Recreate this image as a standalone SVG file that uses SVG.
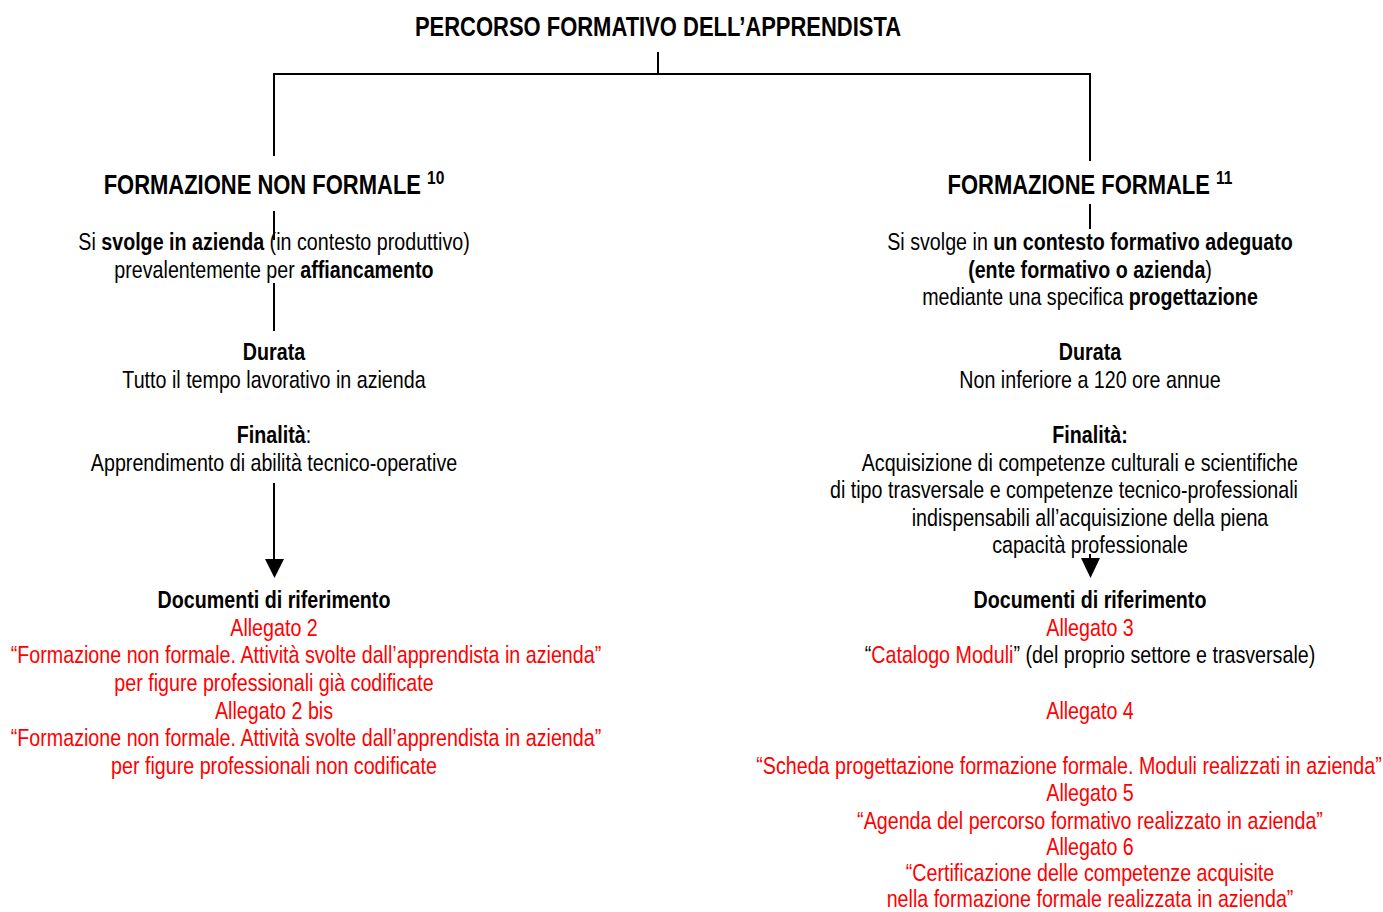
<svg xmlns="http://www.w3.org/2000/svg" width="1383" height="912" viewBox="0 0 1383 912">
<style>
text{font-family:"Liberation Sans",Arial,sans-serif;font-size:24px;fill:#000;text-anchor:middle}
.s{text-anchor:start}
.e{text-anchor:end}
.h{font-size:26.8px;font-weight:bold}
.b{font-weight:bold}
.r{fill:#ff0000}
.sup{font-size:19px;font-weight:bold}
.ln{stroke:#000;stroke-width:2;fill:none}
</style>
<rect width="1383" height="912" fill="#fff"/>
<g id="connectors">
<path class="ln" d="M658 52V74M273 74H1091M274 74V156M1090 74V161"/>
<path class="ln" d="M274 211V240M274 283V331M1090 204V229"/>
<path class="ln" d="M274 483V562"/>
<polygon points="265,559 284,559 274.5,578" fill="#000"/>
<path class="ln" d="M1090 554V562"/>
<polygon points="1081,558 1100,558 1090.5,578" fill="#000"/>
</g>
<g id="title">
<text class="h" transform="translate(658,36) scale(0.82,1)">PERCORSO FORMATIVO DELL’APPRENDISTA</text>
</g>
<g id="nonformale">
<text class="h" transform="translate(274,194) scale(0.82,1)">FORMAZIONE NON FORMALE <tspan class="sup" dy="-10">10</tspan></text>
<text transform="translate(274,250) scale(0.82,1)">Si <tspan class="b">svolge in azienda</tspan> (in contesto produttivo)</text>
<text transform="translate(274,278) scale(0.82,1)">prevalentemente per <tspan class="b">affiancamento</tspan></text>
</g>
<g id="nonformale-durata">
<text class="b" transform="translate(274,360) scale(0.82,1)">Durata</text>
<text transform="translate(274,388) scale(0.82,1)">Tutto il tempo lavorativo in azienda</text>
</g>
<g id="nonformale-finalita">
<text transform="translate(274,443) scale(0.82,1)"><tspan class="b">Finalità</tspan>:</text>
<text transform="translate(274,471) scale(0.82,1)">Apprendimento di abilità tecnico-operative</text>
</g>
<g id="nonformale-documenti">
<text class="b" transform="translate(274,608) scale(0.82,1)">Documenti di riferimento</text>
<text class="r" transform="translate(274,636) scale(0.82,1)">Allegato 2</text>
<text class="r" transform="translate(306,663) scale(0.82,1)">“Formazione non formale. Attività svolte dall’apprendista in azienda”</text>
<text class="r" transform="translate(274,691) scale(0.82,1)">per figure professionali già codificate</text>
<text class="r" transform="translate(274,719) scale(0.82,1)">Allegato 2 bis</text>
<text class="r" transform="translate(306,746) scale(0.82,1)">“Formazione non formale. Attività svolte dall’apprendista in azienda”</text>
<text class="r" transform="translate(274,774) scale(0.82,1)">per figure professionali non codificate</text>
</g>
<g id="formale">
<text class="h" transform="translate(1090,194) scale(0.82,1)">FORMAZIONE FORMALE <tspan class="sup" dy="-10">11</tspan></text>
<text transform="translate(1090,250) scale(0.82,1)">Si svolge in <tspan class="b">un contesto formativo adeguato</tspan></text>
<text transform="translate(1090,278) scale(0.82,1)"><tspan class="b">(ente formativo o azienda</tspan>)</text>
<text transform="translate(1090,305) scale(0.82,1)">mediante una specifica <tspan class="b">progettazione</tspan></text>
</g>
<g id="formale-durata">
<text class="b" transform="translate(1090,360) scale(0.82,1)">Durata</text>
<text transform="translate(1090,388) scale(0.82,1)">Non inferiore a 120 ore annue</text>
</g>
<g id="formale-finalita">
<text class="b" transform="translate(1090,443) scale(0.82,1)">Finalità:</text>
<text class="e" transform="translate(1298,471) scale(0.82,1)">Acquisizione di competenze culturali e scientifiche</text>
<text class="e" transform="translate(1298,498) scale(0.82,1)">di tipo trasversale e competenze tecnico-professionali</text>
<text transform="translate(1090,526) scale(0.82,1)">indispensabili all’acquisizione della piena</text>
<text transform="translate(1090,553) scale(0.82,1)">capacità professionale</text>
</g>
<g id="formale-documenti">
<text class="b" transform="translate(1090,608) scale(0.82,1)">Documenti di riferimento</text>
<text class="r" transform="translate(1090,636) scale(0.82,1)">Allegato 3</text>
<text transform="translate(1090,663) scale(0.82,1)">“<tspan class="r">Catalogo Moduli</tspan>” (del proprio settore e trasversale)</text>
<text class="r" transform="translate(1090,719) scale(0.82,1)">Allegato 4</text>
<text class="r" transform="translate(1069,774) scale(0.82,1)">“Scheda progettazione formazione formale. Moduli realizzati in azienda”</text>
<text class="r" transform="translate(1090,801) scale(0.82,1)">Allegato 5</text>
<text class="r" transform="translate(1090,829) scale(0.82,1)">“Agenda del percorso formativo realizzato in azienda”</text>
<text class="r" transform="translate(1090,855) scale(0.82,1)">Allegato 6</text>
<text class="r" transform="translate(1090,881) scale(0.82,1)">“Certificazione delle competenze acquisite</text>
<text class="r" transform="translate(1090,907) scale(0.82,1)">nella formazione formale realizzata in azienda”</text>
</g>
</svg>
